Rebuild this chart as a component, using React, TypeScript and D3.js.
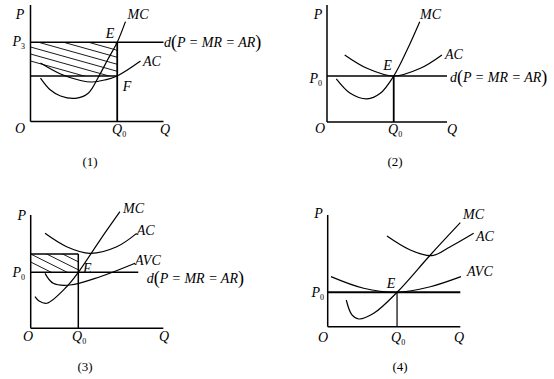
import React from "react";
import * as d3 from "d3";

type Pt = [number, number];

// ---- Panel (1): profit case ----
const p1MC: Pt[] = [[7.5, 37.3], [15, 27], [22.6, 21.9], [33.8, 19.9], [43.6, 24.5], [51.1, 38.2], [57.9, 52.8], [65.2, 68], [71.4, 85.7]];
const p1AC: Pt[] = [[7.5, 50.2], [22.6, 40.8], [37.6, 35.2], [46.6, 33.9], [55.6, 35.6], [65.2, 39.1], [82.7, 51.9]];
const p1Price = 68;
const p1Cost = 39.1;
const p1Q0 = 65.2;

// ---- Panel (2): break-even ----
const p2MC: Pt[] = [[7.75, 36.8], [19.4, 24.5], [33.3, 19.7], [44.4, 24.5], [55.6, 39.3], [66.7, 61.5], [77.3, 85.7]];
const p2AC: Pt[] = [[14.75, 57.3], [33.3, 45.9], [55.6, 39.3], [77.8, 45.9], [95.8, 57.3]];
const p2Price = 39.3;
const p2Q0 = 55.6;

// ---- Panel (3): loss, keep producing ----
const p3MC: Pt[] = [[3.2, 27.9], [6.3, 24.1], [12.1, 22.1], [27.1, 36.7], [35.9, 49.4], [52.3, 77.9], [67.3, 102.9]];
const p3AC: Pt[] = [[10.8, 83.8], [27.1, 72], [44.7, 66.2], [64.9, 72], [79.9, 83.8]];
const p3AVC: Pt[] = [[10.8, 48.5], [17, 39.7], [29.6, 38.2], [52.3, 45.5], [78.7, 57.4]];
const p3Price = 49.4;
const p3Cost = 65.6;
const p3Q0 = 35.9;
const p3DEnd = 81.1;

// ---- Panel (4): shutdown point ----
const p4MC: Pt[] = [[14, 23.9], [18.3, 10.5], [23.4, 6.9], [34.7, 12], [52.3, 30.8], [77.4, 64.2], [100, 93.1]];
const p4AC: Pt[] = [[44.7, 81.2], [62.3, 68.7], [78.7, 63.6], [92.5, 71.6], [110.1, 83.6]];
const p4AVC: Pt[] = [[2.5, 44.8], [27.1, 34.4], [52.3, 30.8], [77.4, 35.8], [100.5, 44.8]];
const p4Price = 30.8;
const p4Q0 = 52.3;

const panelTitles = ["(1)", "(2)", "(3)", "(4)"];

const FONT = "'Liberation Serif', 'Times New Roman', Times, serif";

function mkScales(ox: number, oy: number, xlen: number, ylen: number) {
  const x = d3.scaleLinear().domain([0, 100]).range([ox, ox + xlen]);
  const y = d3.scaleLinear().domain([0, 100]).range([oy, oy - ylen]);
  return { x, y };
}

const lineGen = (x: d3.ScaleLinear<number, number>, y: d3.ScaleLinear<number, number>) =>
  d3
    .line<Pt>()
    .x((d) => x(d[0]))
    .y((d) => y(d[1]))
    .curve(d3.curveCatmullRom.alpha(0.5));

const T = (props: any) => (
  <text fontFamily={FONT} fontStyle="italic" fontSize={14} fill="#000" {...props} />
);

const Sub = ({ base, sub, x, y, anchor = "start" }: any) => (
  <T x={x} y={y} textAnchor={anchor}>
    {base}
    <tspan fontSize={8} fontStyle="normal" dy={3}>
      {sub}
    </tspan>
  </T>
);

const DLabel = ({ x, y }: { x: number; y: number }) => (
  <T x={x} y={y}>
    d
    <tspan fontSize={18} fontStyle="normal" dy={1}>(</tspan>
    <tspan dy={-1}>P = MR = AR</tspan>
    <tspan fontSize={18} fontStyle="normal" dy={1}>)</tspan>
  </T>
);

function hatchLines(x0: number, x1: number, intercepts: number[], slope: number) {
  return intercepts.map((b) => ({ x1: x0, y1: b, x2: x1, y2: b + slope * (x1 - x0) }));
}

export default function App() {
  const s1 = mkScales(30.5, 121.5, 133, 116.5);
  const s2 = mkScales(327, 122, 120, 117);
  const s3 = mkScales(30.7, 328.3, 132.6, 113.3);
  const s4 = mkScales(327.7, 326.7, 132.6, 111.7);

  const l1 = lineGen(s1.x, s1.y);
  const l2 = lineGen(s2.x, s2.y);
  const l3 = lineGen(s3.x, s3.y);
  const l4 = lineGen(s4.x, s4.y);

  const stroke = { stroke: "#000", fill: "none", strokeWidth: 1.2 };
  const axis = { stroke: "#000", strokeWidth: 1.5 };

  const h1 = hatchLines(s1.x(0), s1.x(p1Q0), d3.range(19, 63, 7), 0.28);
  const h3 = hatchLines(s3.x(0), s3.x(p3Q0), d3.range(230, 266, 8), 0.5);

  return (
    <svg
      width={554}
      height={379}
      style={{ position: "absolute", left: 0, top: 0, background: "#fff" }}
    >
      <defs>
        <clipPath id="c1">
          <rect x={s1.x(0)} y={s1.y(p1Price)} width={s1.x(p1Q0) - s1.x(0)} height={s1.y(p1Cost) - s1.y(p1Price)} />
        </clipPath>
        <clipPath id="c3">
          <rect x={s3.x(0)} y={s3.y(p3Cost)} width={s3.x(p3Q0) - s3.x(0)} height={s3.y(p3Price) - s3.y(p3Cost)} />
        </clipPath>
      </defs>

      {/* Panel 1 */}
      <g>
        <g clipPath="url(#c1)">
          {h1.map((l, i) => (
            <line key={i} {...l} stroke="#000" strokeWidth={0.9} />
          ))}
        </g>
        <line x1={s1.x(0)} y1={s1.y(0)} x2={s1.x(0)} y2={s1.y(100)} {...axis} />
        <line x1={s1.x(0)} y1={s1.y(0)} x2={s1.x(100)} y2={s1.y(0)} {...axis} />
        <line x1={s1.x(0)} y1={s1.y(p1Price)} x2={s1.x(100)} y2={s1.y(p1Price)} {...axis} />
        <line x1={s1.x(0)} y1={s1.y(p1Cost)} x2={s1.x(p1Q0)} y2={s1.y(p1Cost)} {...axis} />
        <line x1={s1.x(p1Q0)} y1={s1.y(p1Price)} x2={s1.x(p1Q0)} y2={s1.y(0)} stroke="#000" strokeWidth={1.8} />
        <path d={l1(p1MC) || ""} {...stroke} />
        <path d={l1(p1AC) || ""} {...stroke} />
        <T x={20} y={19} textAnchor="middle">P</T>
        <Sub base="P" sub="3" x={25} y={46} anchor="end" />
        <T x={110} y={38} textAnchor="middle">E</T>
        <T x={127} y={91} textAnchor="middle">F</T>
        <T x={127.5} y={19}>MC</T>
        <T x={143} y={66}>AC</T>
        <DLabel x={164} y={47} />
        <T x={20} y={133} textAnchor="middle">O</T>
        <Sub base="Q" sub="0" x={112} y={134} />
        <T x={165} y={134} textAnchor="middle">Q</T>
        <T x={90} y={166} textAnchor="middle" fontStyle="normal" fontSize={13}>{panelTitles[0]}</T>
      </g>

      {/* Panel 2 */}
      <g>
        <line x1={s2.x(0)} y1={s2.y(0)} x2={s2.x(0)} y2={s2.y(100)} {...axis} />
        <line x1={s2.x(0)} y1={s2.y(0)} x2={s2.x(100)} y2={s2.y(0)} {...axis} />
        <line x1={s2.x(0)} y1={s2.y(p2Price)} x2={s2.x(100)} y2={s2.y(p2Price)} {...axis} />
        <line x1={s2.x(p2Q0)} y1={s2.y(p2Price)} x2={s2.x(p2Q0)} y2={s2.y(0)} stroke="#000" strokeWidth={1.8} />
        <path d={l2(p2MC) || ""} {...stroke} />
        <path d={l2(p2AC) || ""} {...stroke} />
        <T x={318} y={19} textAnchor="middle">P</T>
        <Sub base="P" sub="0" x={322} y={83} anchor="end" />
        <T x={387.5} y={70} textAnchor="middle">E</T>
        <T x={420} y={19}>MC</T>
        <T x={445} y={59}>AC</T>
        <DLabel x={450} y={82} />
        <T x={320} y={133} textAnchor="middle">O</T>
        <Sub base="Q" sub="0" x={388} y={134} />
        <T x={452} y={134} textAnchor="middle">Q</T>
        <T x={395} y={166} textAnchor="middle" fontStyle="normal" fontSize={13}>{panelTitles[1]}</T>
      </g>

      {/* Panel 3 */}
      <g>
        <g clipPath="url(#c3)">
          {h3.map((l, i) => (
            <line key={i} {...l} stroke="#000" strokeWidth={0.9} />
          ))}
        </g>
        <line x1={s3.x(0)} y1={s3.y(0)} x2={s3.x(0)} y2={s3.y(100)} {...axis} />
        <line x1={s3.x(0)} y1={s3.y(0)} x2={s3.x(100)} y2={s3.y(0)} {...axis} />
        <line x1={s3.x(0)} y1={s3.y(p3Cost)} x2={s3.x(p3Q0)} y2={s3.y(p3Cost)} {...axis} />
        <line x1={s3.x(0)} y1={s3.y(p3Price)} x2={s3.x(p3DEnd)} y2={s3.y(p3Price)} {...axis} />
        <line x1={s3.x(p3Q0)} y1={s3.y(p3Cost)} x2={s3.x(p3Q0)} y2={s3.y(0)} {...axis} />
        <path d={l3(p3MC) || ""} {...stroke} />
        <path d={l3(p3AC) || ""} {...stroke} />
        <path d={l3(p3AVC) || ""} {...stroke} />
        <T x={21.7} y={220} textAnchor="middle">P</T>
        <Sub base="P" sub="0" x={25} y={277} anchor="end" />
        <T x={83} y={273}>E</T>
        <T x={123} y={213}>MC</T>
        <T x={136.7} y={235}>AC</T>
        <T x={135} y={265}>AVC</T>
        <DLabel x={146.7} y={283} />
        <T x={28} y={341} textAnchor="middle">O</T>
        <Sub base="Q" sub="0" x={72} y={341} />
        <T x={164} y={341} textAnchor="middle">Q</T>
        <T x={85} y={371} textAnchor="middle" fontStyle="normal" fontSize={13}>{panelTitles[2]}</T>
      </g>

      {/* Panel 4 */}
      <g>
        <line x1={s4.x(0)} y1={s4.y(0)} x2={s4.x(0)} y2={s4.y(100)} {...axis} />
        <line x1={s4.x(0)} y1={s4.y(0)} x2={s4.x(100)} y2={s4.y(0)} {...axis} />
        <line x1={s4.x(0)} y1={s4.y(p4Price)} x2={s4.x(100)} y2={s4.y(p4Price)} stroke="#000" strokeWidth={2} />
        <line x1={s4.x(p4Q0)} y1={s4.y(p4Price)} x2={s4.x(p4Q0)} y2={s4.y(0)} stroke="#000" strokeWidth={1.2} />
        <path d={l4(p4MC) || ""} {...stroke} />
        <path d={l4(p4AC) || ""} {...stroke} />
        <path d={l4(p4AVC) || ""} {...stroke} />
        <T x={318.5} y={218} textAnchor="middle">P</T>
        <Sub base="P" sub="0" x={324} y={297} anchor="end" />
        <T x={391} y={288} textAnchor="middle">E</T>
        <T x={463} y={219}>MC</T>
        <T x={476} y={241}>AC</T>
        <T x={467} y={276}>AVC</T>
        <T x={323} y={342} textAnchor="middle">O</T>
        <Sub base="Q" sub="0" x={391} y={342} />
        <T x={459} y={342} textAnchor="middle">Q</T>
        <T x={400} y={371} textAnchor="middle" fontStyle="normal" fontSize={13}>{panelTitles[3]}</T>
      </g>
    </svg>
  );
}
